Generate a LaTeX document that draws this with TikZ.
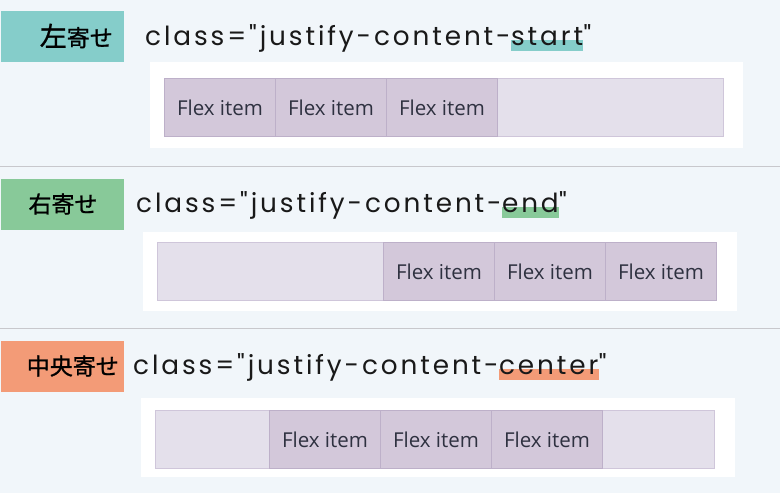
\documentclass[tikz,border=0pt]{standalone}
\usepackage{fontspec}
\setmainfont{Open Sans}
\newfontfamily\codefont[LetterSpace=11]{Poppins}
\newfontfamily\jpfont[FakeBold=1]{Noto Sans CJK JP}
\usetikzlibrary{positioning}
\pgfdeclarelayer{bg}
\pgfsetlayers{bg,main}
\definecolor{pagebg}{HTML}{F1F6FA}
\definecolor{tealtag}{HTML}{85CDCA}
\definecolor{greentag}{HTML}{88C999}
\definecolor{orangetag}{HTML}{F39B77}
\definecolor{boxfill}{HTML}{E4E0EB}
\definecolor{boxline}{HTML}{CFC6DA}
\definecolor{itemfill}{HTML}{D3C8DA}
\definecolor{itemline}{HTML}{BDB0C9}
\definecolor{sepgray}{HTML}{C8C8CC}
\definecolor{itemtext}{HTML}{2E3140}
\tikzset{
  tagbox/.style={anchor=north west,minimum width=123pt,minimum height=51pt,inner sep=0pt},
  tagtext/.style={font=\jpfont\fontsize{23}{23}\selectfont,inner sep=0pt},
  code/.style={font=\codefont\fontsize{26.3}{26.3}\selectfont,text=black!90,inner sep=0pt,anchor=base west},
  panel/.style={fill=white},
  flexbox/.style={fill=boxfill,draw=boxline,line width=1pt},
  flexitem/.style={anchor=north west,fill=itemfill,draw=itemline,line width=1pt,
    minimum width=111pt,minimum height=58pt,inner sep=0pt,text=itemtext,
    font=\fontsize{20.5}{20.5}\selectfont},
  sepline/.style={draw=sepgray,line width=1pt}
}
\begin{document}
\begin{tikzpicture}[x=1pt,y=-1pt]
  \begin{pgfonlayer}{bg}
    \fill[pagebg] (0,0) rectangle (780,493);
  \end{pgfonlayer}
  \useasboundingbox (0,0) rectangle (780,493);
  % left
  \node[tagbox,fill=tealtag] (tag1) at (1,11) {};
  \node[tagtext,anchor=east] (tagtxt1) at (113,36) {{\fontsize{27}{27}\selectfont 左}寄せ};
  \node[code] (code1) at (145,45) {class="justify-content-};
  \node[code] (key1) at (code1.base east) {start};
  \node[code] (quote1) at (key1.base east) {"};
  \begin{pgfonlayer}{bg}
    \fill[tealtag] ([yshift=-6pt]key1.base west) rectangle ([yshift=5pt]key1.base east);
  \end{pgfonlayer}
  \fill[panel] (150,62) rectangle (743,148);
  \draw[flexbox] (164,78) rectangle (723,136);
  \foreach \i/\x in {1/164,2/275,3/386}
    \node[flexitem] (start\i) at (\x,78) {Flex item};
  \draw[sepline] (0,166) -- (780,166);
  % right
  \node[tagbox,fill=greentag] (tag2) at (1,179) {};
  \node[tagtext] (tagtxt2) at (63,204) {右寄せ};
  \node[code] (code2) at (136,212) {class="justify-content-};
  \node[code] (key2) at (code2.base east) {end};
  \node[code] (quote2) at (key2.base east) {"};
  \begin{pgfonlayer}{bg}
    \fill[greentag] ([yshift=-6pt]key2.base west) rectangle ([yshift=5pt]key2.base east);
  \end{pgfonlayer}
  \fill[panel] (143,232) rectangle (737,311);
  \draw[flexbox] (157,242) rectangle (716,300);
  \foreach \i/\x in {1/383,2/494,3/605}
    \node[flexitem] (end\i) at (\x,242) {Flex item};
  \draw[sepline] (0,328) -- (780,328);
  % center
  \node[tagbox,fill=orangetag] (tag3) at (1,341) {};
  \node[tagtext,anchor=east] (tagtxt3) at (119,366) {中央寄せ};
  \node[code] (code3) at (133,374) {class="justify-content-};
  \node[code] (key3) at (code3.base east) {center};
  \node[code] (quote3) at (key3.base east) {"};
  \begin{pgfonlayer}{bg}
    \fill[orangetag] ([yshift=-6pt]key3.base west) rectangle ([yshift=5pt]key3.base east);
  \end{pgfonlayer}
  \fill[panel] (141,398) rectangle (735,477);
  \draw[flexbox] (155,410) rectangle (714,468);
  \foreach \i/\x in {1/269,2/380,3/491}
    \node[flexitem] (center\i) at (\x,410) {Flex item};
\end{tikzpicture}
\end{document}
